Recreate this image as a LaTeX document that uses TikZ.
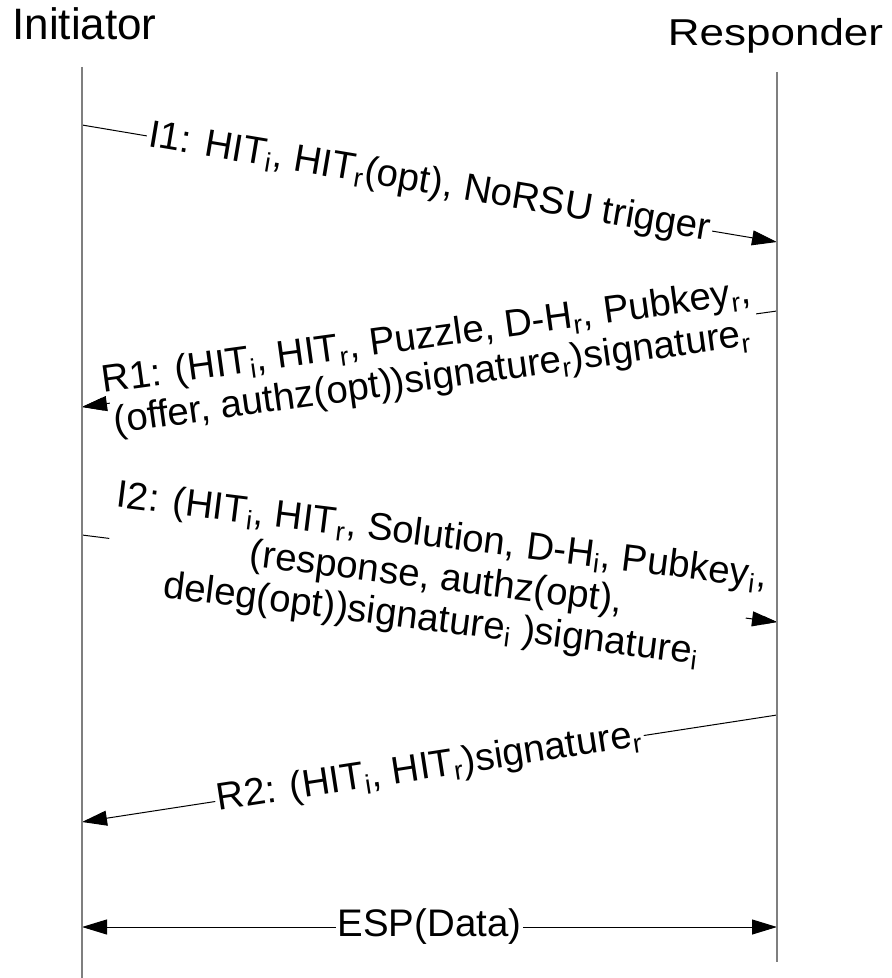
\documentclass[tikz,border=0pt]{standalone}
\usepackage{fontspec}
\setmainfont{Liberation Sans}
\usetikzlibrary{arrows.meta,positioning,calc}
\definecolor{LifeGray}{HTML}{7F7F7F}

\begin{document}
\begin{tikzpicture}[
    x=0.5pt, y=-0.5pt,
    party/.style={inner sep=0pt, anchor=base, font=\fontsize{22}{26}\selectfont},
    life/.style={draw=LifeGray, line width=0.7pt},
    msgline/.style={-{Triangle[length=12.5pt, width=7.5pt]}, line width=0.5pt, draw=black},
    msg/.style={sloped, fill=white, inner sep=1pt, align=center, font=\fontsize{19.2}{21}\selectfont}
]
\useasboundingbox (0,0) rectangle (891,978);

% participants
\node[party] (ini) at (84.5,40) {Initiator};
\node[party] (resp) at (775.5,46) {\scalebox{1}[0.85]{Responder}};

% lifeline end points
\coordinate (iTop) at (82,67);
\coordinate (iBot) at (82,978);
\coordinate (rTop) at (777,72);
\coordinate (rBot) at (777,962);

% message end points
\coordinate (i1a) at (82,125);  \coordinate (i1b) at (777,242);
\coordinate (r1a) at (777,311); \coordinate (r1b) at (82,407);
\coordinate (i2a) at (82,535);  \coordinate (i2b) at (777,622);
\coordinate (r2a) at (777,715); \coordinate (r2b) at (82,822);
\coordinate (espa) at (82,927); \coordinate (espb) at (777,927);

% base exchange
\draw[msgline] (i1a) -- node[msg] (i1) {I1: HIT\textsubscript{i}, HIT\textsubscript{r}(opt), NoRSU trigger} (i1b);
\draw[msgline] (r1a) -- node[msg] (r1) {R1: (HIT\textsubscript{i}, HIT\textsubscript{r}, Puzzle, D-H\textsubscript{r}, Pubkey\textsubscript{r},\\(offer, authz(opt))signature\textsubscript{r})signature\textsubscript{r}} (r1b);
\draw[msgline] (i2a) -- node[msg, pos=0.51] (i2) {I2: (HIT\textsubscript{i}, HIT\textsubscript{r}, Solution, D-H\textsubscript{i}, Pubkey\textsubscript{i},\\(response, authz(opt),\\deleg(opt))signature\textsubscript{i} )signature\textsubscript{i}} (i2b);
\draw[msgline] (r2a) -- node[msg] (r2) {R2: (HIT\textsubscript{i}, HIT\textsubscript{r})signature\textsubscript{r}} (r2b);

% tips that the wide labels hide
\coordinate (r1c) at ($(r1a)!0.96!(r1b)$);
\coordinate (i2c) at ($(i2a)!0.955!(i2b)$);
\draw[msgline] (r1c) -- (r1b);
\draw[msgline] (i2c) -- (i2b);

% data traffic
\draw[msgline, {Triangle[length=12.5pt, width=7.5pt]}-{Triangle[length=12.5pt, width=7.5pt]}] (espa) -- node[msg, sloped=false] (esp) {ESP(Data)} (espb);

% lifelines
\draw[life] (iTop) -- (iBot);
\draw[life] (rTop) -- (rBot);

\end{tikzpicture}
\end{document}
